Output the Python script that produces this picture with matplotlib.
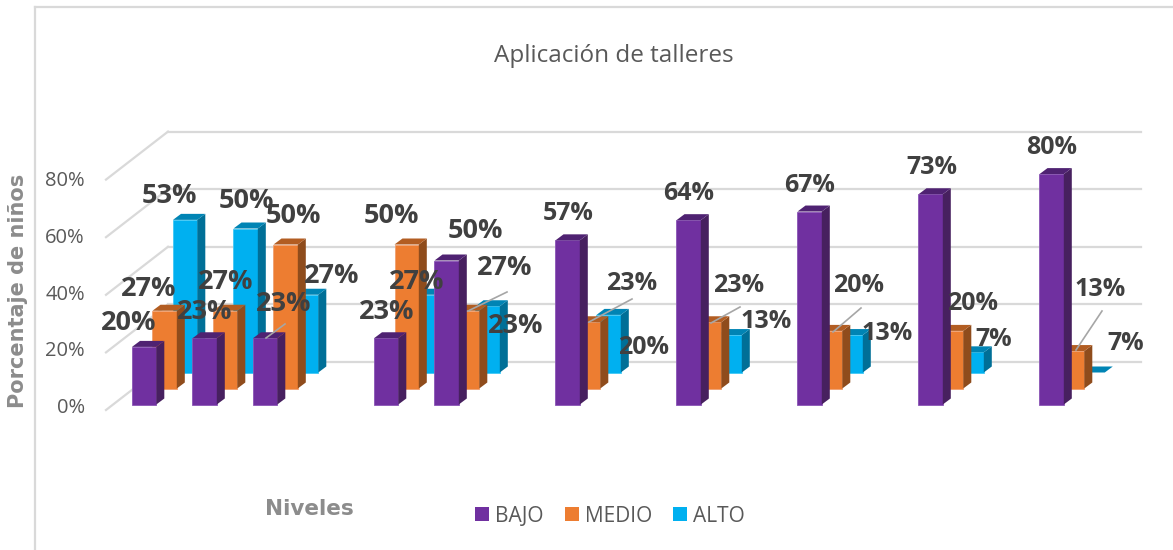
import matplotlib
matplotlib.use("Agg")
import matplotlib.pyplot as plt
from matplotlib.patches import Polygon, Patch
from matplotlib.transforms import Affine2D

W, H = 1173, 550

# datos
bajo = [20, 23, 23, 23, 50, 57, 64, 67, 73, 80]
medio = [27, 27, 50, 50, 27, 23, 23, 20, 20, 13]
alto = [53, 50, 27, 27, 23, 20, 13, 13, 7, 0]

bajo_txt = ["20%", "23%", "23%", "23%", "50%", "57%", "64%", "67%", "73%", "80%"]
medio_txt = ["27%", "27%", "50%", "50%", "27%", "23%", "23%", "20%", "20%", "13%"]
alto_txt = ["53%", "50%", "27%", "27%", "23%", "20%", "13%", "13%", "7%", "7%"]

y_ticks = [0, 20, 40, 60, 80]

# posicion de cada grupo en el eje x (hay huecos)
slots = [0, 1, 2, 4, 5, 7, 9, 11, 13, 15]

# posicion de las etiquetas en pixeles
bajo_pos = [(129, 323), (205, 312), (284, 304), (387, 312), (475, 231),
            (568, 214), (689, 194), (810, 186), (932, 167), (1052, 148)]
medio_pos = [(149, 289), (226, 282), (293, 216), (391, 216), (505, 268),
             (632, 283), (739, 285), (859, 286), (973, 303), (1100, 289)]
alto_pos = [(169, 196), (246, 201), (332, 276), (417, 282), (516, 326),
            (644, 348), (766, 321), (887, 334), (994, 340), (1126, 344)]

# lineas guia de las etiquetas
guias = [((266, 338), (285, 324)), ((468, 311), (507, 292)),
         ((589, 322), (632, 299)), ((711, 323), (740, 307)),
         ((833, 332), (861, 308)), ((1076, 350), (1102, 311))]

# escala: pixeles por unidad
X0, PX_SLOT = 132, 60.5
Y0, PX_PCT = 404.5, 2.88
BAR_W = 24.3 / PX_SLOT
SIDE_X, SIDE_Y = 8 / PX_SLOT, 6 / PX_PCT
STEP_X, STEP_Y = 20.5 / PX_SLOT, 16 / PX_PCT

GRID = "#D9D9D9"
TXT = "#595959"
LBL = "#404040"
plt.rcParams["font.family"] = "Open Sans"

fig = plt.figure(figsize=(W / 100, H / 100), dpi=100)
ax = fig.add_axes([0, 0, 1, 1])
ax.set_xlim(-X0 / PX_SLOT, (W - X0) / PX_SLOT)
ax.set_ylim((Y0 - H) / PX_PCT, Y0 / PX_PCT)
ax.axis("off")

# transformacion en pixeles de la imagen (y hacia abajo)
px = Affine2D().scale(1 / W, -1 / H).translate(0, 1) + fig.transFigure


def barra(x, v, capa, cols):
    """Dibuja una barra 3D: frente, lado y tapa."""
    x = x + capa * STEP_X
    b = capa * STEP_Y
    t = b + v
    z = 3 + (2 - capa) * 2
    if v > 0:
        ax.add_patch(Polygon([(x, b), (x + BAR_W, b), (x + BAR_W, t), (x, t)],
                             fc=cols[0], ec=cols[3], lw=0.6, zorder=z))
        ax.add_patch(Polygon([(x + BAR_W, b), (x + BAR_W + SIDE_X, b + SIDE_Y),
                              (x + BAR_W + SIDE_X, t + SIDE_Y), (x + BAR_W, t)],
                             fc=cols[1], ec="none", zorder=z))
    ax.add_patch(Polygon([(x, t), (x + BAR_W, t), (x + BAR_W + SIDE_X, t + SIDE_Y),
                          (x + SIDE_X, t + SIDE_Y)],
                         fc=cols[2], ec="none", zorder=z))


purple = ("#7030A0", "#47205F", "#4F2272", "#8A55B5")
orange = ("#ED7D31", "#8F4C1C", "#B25D22", "#F0A070")
blue = ("#00B0F0", "#006F97", "#0084B4", "#40C8F5")

# rejilla: pared del fondo y lineas laterales
for t in y_ticks:
    ax.plot([(168 - X0) / PX_SLOT, (1141 - X0) / PX_SLOT],
            [t + (Y0 - 362) / PX_PCT] * 2, color=GRID, lw=1.6, zorder=1)
    ax.plot([(106 - X0) / PX_SLOT, (168 - X0) / PX_SLOT],
            [t + (Y0 - 410) / PX_PCT, t + (Y0 - 362) / PX_PCT], color=GRID, lw=1.6, zorder=1)
    ax.text(85, 408 - 2.8375 * t, f"{t}%", transform=px, ha="right", va="center",
            fontsize=14.5, color=TXT)

for s, v in zip(slots, alto):
    barra(s, v, 2, blue)
for s, v in zip(slots, medio):
    barra(s, v, 1, orange)
for s, v in zip(slots, bajo):
    barra(s, v, 0, purple)

for a, b in guias:
    ax.plot([a[0], b[0]], [a[1], b[1]], transform=px, color="#A6A6A6", lw=1.2, zorder=20)

for txt, pos in [(alto_txt, alto_pos), (medio_txt, medio_pos), (bajo_txt, bajo_pos)]:
    for i, (t, (x, y)) in enumerate(zip(txt, pos)):
        # las etiquetas de la derecha son algo mas estrechas
        ax.text(x, y, t, transform=px, ha="center", va="center",
                fontsize=19.5 if i < 5 else 18, fontweight="bold", color=LBL, zorder=30)

# marco
ax.plot([35, 35], [550, 6.5], transform=px, color=GRID, lw=1.6, clip_on=False)
ax.plot([35, 1173], [6.5, 6.5], transform=px, color=GRID, lw=1.6, clip_on=False)

ax.text(614, 56, "Aplicación de talleres", transform=px, ha="center", va="center",
        fontsize=17.5, color=TXT)
ax.text(18, 291, "Porcentaje de niños", transform=px, rotation=90, ha="center", va="center",
        fontsize=15, fontweight="bold", family="DejaVu Sans", color="#8C8C8C")
ax.text(309, 509, "Niveles", transform=px, ha="center", va="center",
        fontsize=15.5, fontweight="bold", family="DejaVu Sans", color="#8C8C8C")

handles = [Patch(fc=purple[0], label="BAJO"), Patch(fc=orange[0], label="MEDIO"),
           Patch(fc=blue[0], label="ALTO")]
ax.legend(handles=handles, ncols=3, loc="center", bbox_to_anchor=(610, 516),
          bbox_transform=px, frameon=False, fontsize=15, labelcolor=TXT,
          handlelength=0.66, handleheight=0.66, handletextpad=0.3, columnspacing=1.0,
          borderpad=0)

fig.savefig("out.png", dpi=100, facecolor="white")
